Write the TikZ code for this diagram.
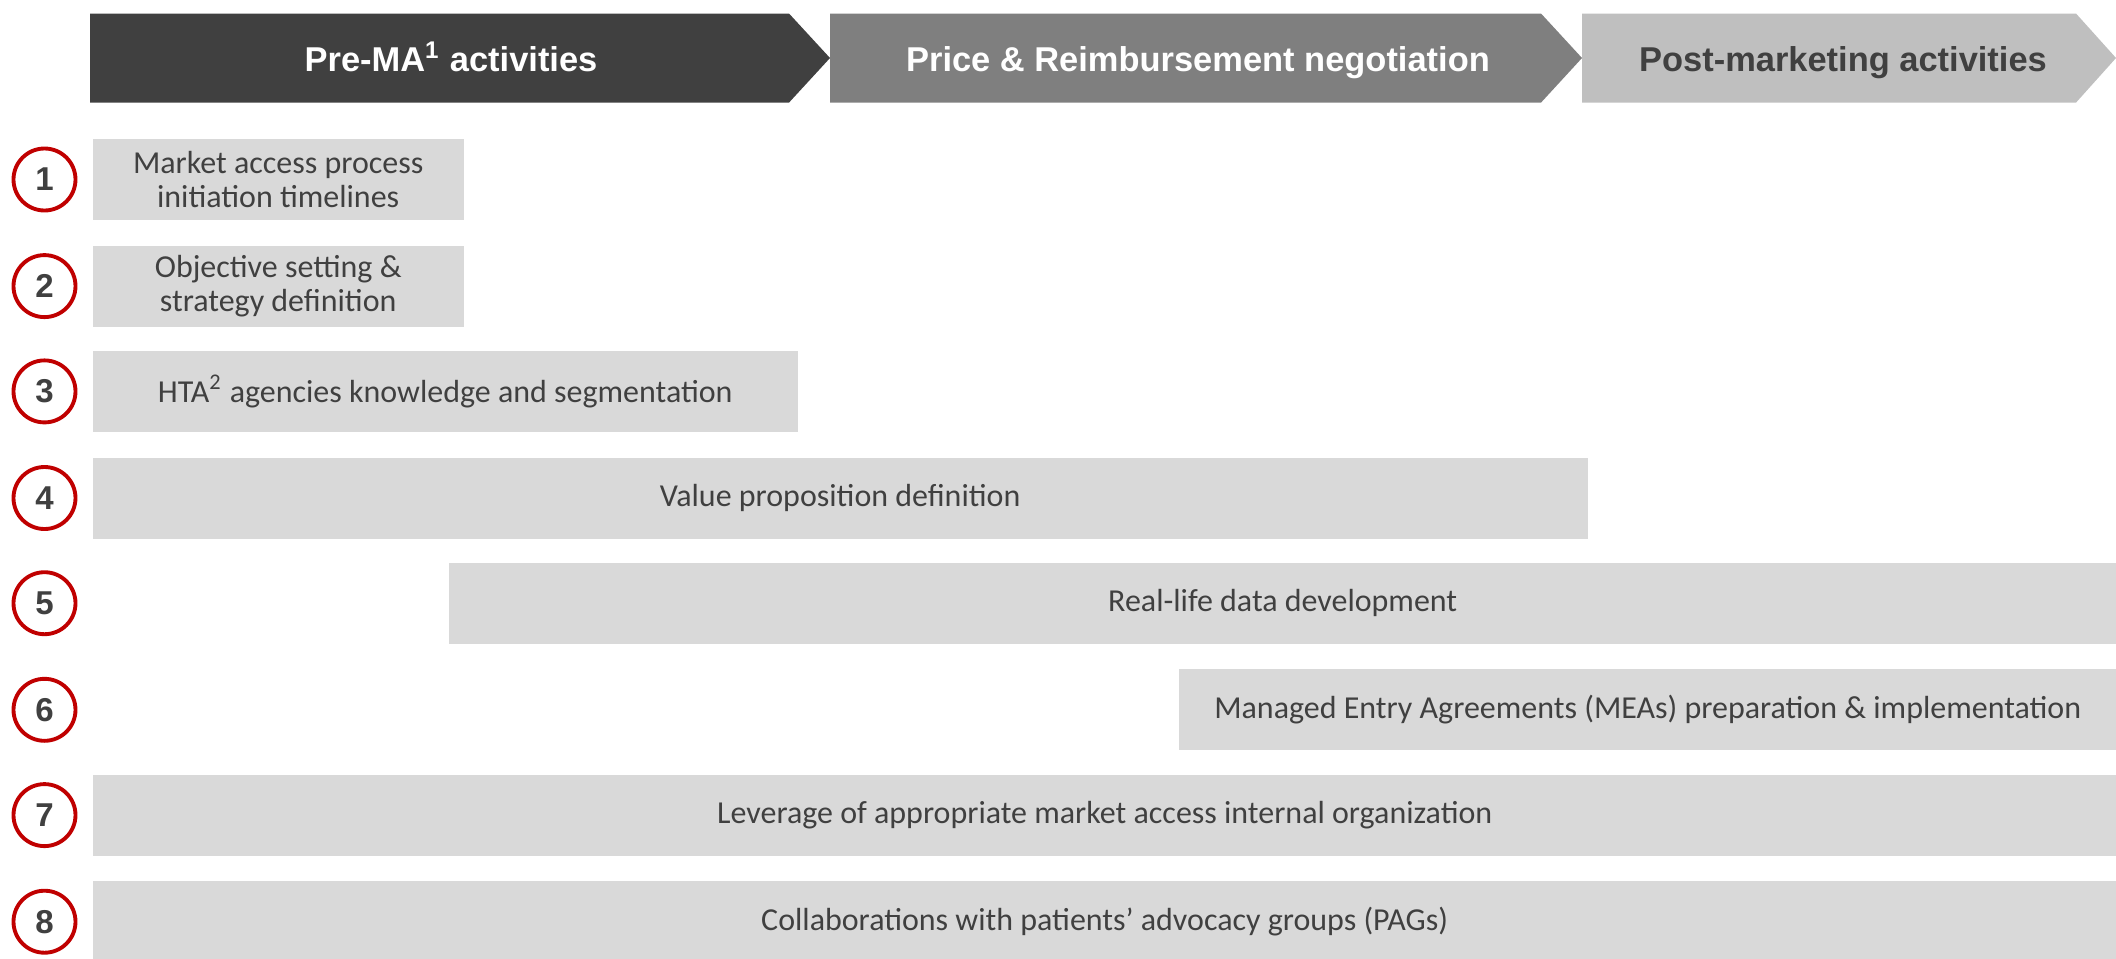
\documentclass[tikz,border=0pt]{standalone}
\usepackage{fontspec}
\setmainfont{Carlito}
\newfontfamily\hdrfont{Liberation Sans}
\usepackage{xcolor}
\usetikzlibrary{positioning}
\definecolor{darktxt}{HTML}{404040}
\definecolor{phaseA}{HTML}{404040}
\definecolor{phaseB}{HTML}{7F7F7F}
\definecolor{phaseC}{HTML}{BFBFBF}
\definecolor{barfill}{HTML}{D9D9D9}
\definecolor{ringred}{HTML}{C00000}

\begin{document}
\begin{tikzpicture}[
    font=\fontsize{9.1pt}{9.6pt}\selectfont,
    hdr/.style={font=\hdrfont\bfseries\fontsize{9.8pt}{10pt}\selectfont, text height=2.4mm, text depth=0.7mm},
    bar/.style={fill=barfill, text=darktxt, anchor=west, minimum height=8.1mm, inner sep=0pt, align=center},
    num/.style={circle, draw=ringred, line width=1.1pt, fill=white, minimum size=6.2mm, inner sep=0pt,
                text=darktxt, font=\hdrfont\bfseries\fontsize{9.4pt}{10pt}\selectfont}
]
\useasboundingbox (0,0) rectangle (21.16,-9.58);

% phase chevrons
\fill[phaseA] (0.90,-0.135) -- (7.89,-0.135) -- (8.30,-0.58) -- (7.89,-1.026) -- (0.90,-1.026) -- cycle;
\fill[phaseB] (8.30,-0.135) -- (15.41,-0.135) -- (15.82,-0.58) -- (15.41,-1.026) -- (8.30,-1.026) -- cycle;
\fill[phaseC] (15.82,-0.135) -- (20.76,-0.135) -- (21.16,-0.58) -- (20.76,-1.026) -- (15.82,-1.026) -- cycle;
\node[hdr, text=white] (prema) at (4.51,-0.63) {Pre-MA\textsuperscript{1} activities};
\node[hdr, text=white] (pricing) at (11.98,-0.63) {Price \& Reimbursement negotiation};
\node[hdr, text=darktxt] (postma) at (18.43,-0.63) {Post-marketing activities};

% activity bars
\clip (0,0) rectangle (21.16,-9.58);
\node[bar, minimum width=37.1mm] (timing) at (0.92,-1.795) {Market access process\\initiation timelines};
\node[bar, minimum width=37.1mm] (strategy) at (0.92,-2.861) {Objective setting \&\\strategy definition};
\node[bar, minimum width=70.5mm] (hta) at (0.92,-3.914) {HTA\textsuperscript{2} agencies knowledge and segmentation};
\node[bar, minimum width=149.5mm] (value) at (0.92,-4.980) {Value proposition definition};
\node[bar, minimum width=166.8mm] (rwd) at (4.48,-6.032) {Real-life data development};
\node[bar, minimum width=93.8mm] (mea) at (11.78,-7.098) {Managed Entry Agreements (MEAs) preparation \& implementation};
\node[bar, minimum width=202.4mm] (orga) at (0.92,-8.151) {Leverage of appropriate market access internal organization};
\node[bar, minimum width=202.4mm] (pags) at (0.92,-9.217) {Collaborations with patients’ advocacy groups (PAGs)};

% numbered rings
\node[num] (n1) at (0.445,-1.795) {1};
\node[num] (n2) at (0.445,-2.861) {2};
\node[num] (n3) at (0.445,-3.914) {3};
\node[num] (n4) at (0.445,-4.980) {4};
\node[num] (n5) at (0.445,-6.032) {5};
\node[num] (n6) at (0.445,-7.098) {6};
\node[num] (n7) at (0.445,-8.151) {7};
\node[num] (n8) at (0.445,-9.217) {8};
\end{tikzpicture}
\end{document}
